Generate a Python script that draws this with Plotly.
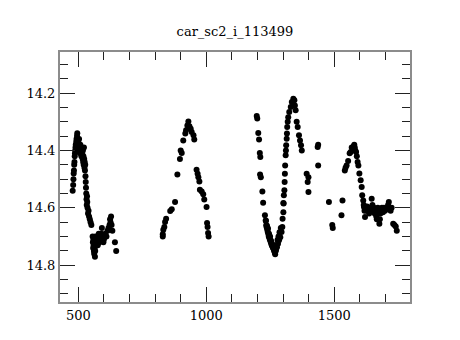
import plotly.graph_objects as go

title_text = "car_sc2_i_113499"

# Season 1
x1 = [478, 480, 481, 482, 483, 484, 485, 486, 487, 488, 489, 490, 491, 492, 493, 494, 495, 496, 497, 498,
      499, 500, 501, 502, 503, 505, 507, 508, 510, 512, 513, 515, 517, 518, 519, 520, 521, 522, 523, 524,
      525, 526, 527, 528, 529, 530, 531, 532, 533, 534, 535, 536, 538, 540, 542, 545, 548, 551,
      556, 557, 558, 559, 560, 561, 562, 563, 564, 565, 566, 567, 568, 570, 572, 574, 576, 578, 580, 582,
      585, 588, 590, 592, 595, 598, 600, 603, 606, 610, 614, 618, 622, 624, 626, 628, 630, 633, 643, 648]
y1 = [14.54, 14.52, 14.50, 14.48, 14.47, 14.45, 14.44, 14.42, 14.41, 14.40, 14.39, 14.38, 14.40, 14.37, 14.36, 14.38, 14.35, 14.34, 14.37, 14.36,
      14.39, 14.37, 14.40, 14.38, 14.36, 14.39, 14.41, 14.38, 14.40, 14.42, 14.39, 14.41, 14.43, 14.40, 14.44, 14.42, 14.45, 14.39, 14.43, 14.46,
      14.44, 14.47, 14.45, 14.49, 14.51, 14.53, 14.55, 14.57, 14.59, 14.56, 14.58, 14.60, 14.62, 14.61, 14.63, 14.64, 14.65, 14.66,
      14.70, 14.72, 14.74, 14.71, 14.73, 14.75, 14.76, 14.72, 14.74, 14.77, 14.75, 14.70, 14.73, 14.71, 14.72, 14.70, 14.73, 14.71, 14.69, 14.72,
      14.70, 14.71, 14.69, 14.67, 14.70, 14.72, 14.71, 14.70, 14.69, 14.70, 14.68, 14.67, 14.66, 14.64, 14.65, 14.63, 14.66, 14.68, 14.72, 14.75]

# Season 2
x2 = [830, 830, 832, 836, 839, 843, 859, 865, 878, 887, 897, 900, 904, 910, 918, 921, 926, 930, 934, 939,
      943, 950, 953, 962, 966, 969, 973, 975, 982, 988, 992, 1001, 1003, 1005, 1007, 1009]
y2 = [14.70, 14.692, 14.676, 14.667, 14.649, 14.638, 14.611, 14.605, 14.58, 14.484, 14.43, 14.40, 14.409, 14.365, 14.341, 14.33, 14.313, 14.299, 14.316, 14.324,
      14.336, 14.347, 14.362, 14.467, 14.481, 14.493, 14.508, 14.537, 14.543, 14.553, 14.571, 14.597, 14.653, 14.667, 14.688, 14.70]

# Season 3
x3 = [1197, 1199, 1203, 1206, 1209, 1211, 1210, 1213, 1219, 1222, 1229, 1232, 1234, 1236, 1238, 1240, 1242, 1244, 1246, 1248,
      1250, 1252, 1254, 1256, 1258, 1260, 1262, 1264, 1265, 1268, 1270, 1272, 1276, 1280, 1284, 1289, 1294, 1297, 1298, 1301,
      1302, 1303, 1305, 1306, 1307, 1308, 1310, 1311, 1312, 1314, 1315, 1316, 1318, 1320, 1324, 1330, 1334, 1340, 1344, 1346,
      1349, 1353, 1357, 1362, 1366, 1370, 1373, 1392, 1396, 1399, 1399, 1435, 1437, 1437,
      1233, 1237, 1241, 1245, 1249, 1253, 1257, 1261, 1266, 1269, 1271, 1274, 1278, 1282, 1286, 1291, 1301]
y3 = [14.28, 14.289, 14.339, 14.362, 14.409, 14.423, 14.484, 14.493, 14.543, 14.582, 14.626, 14.644, 14.661, 14.668, 14.675, 14.683, 14.69, 14.70, 14.702, 14.71,
      14.713, 14.72, 14.725, 14.73, 14.734, 14.738, 14.742, 14.745, 14.75, 14.756, 14.752, 14.748, 14.737, 14.725, 14.713, 14.702, 14.684, 14.667, 14.638, 14.615,
      14.585, 14.556, 14.539, 14.51, 14.481, 14.452, 14.417, 14.40, 14.382, 14.359, 14.341, 14.318, 14.30, 14.284, 14.266, 14.249, 14.231, 14.22, 14.225, 14.243,
      14.26, 14.30, 14.318, 14.347, 14.365, 14.382, 14.40, 14.481, 14.51, 14.493, 14.545, 14.388, 14.38, 14.452,
      14.645, 14.662, 14.672, 14.69, 14.70, 14.715, 14.725, 14.735, 14.745, 14.762, 14.74, 14.73, 14.712, 14.70, 14.685, 14.67, 14.583]

# Season 4
x4 = [1479, 1492, 1494, 1528, 1532, 1541, 1544, 1548, 1554, 1560, 1564, 1568, 1572, 1574, 1576, 1578, 1580, 1582, 1585, 1588,
      1591, 1594, 1598, 1603, 1607, 1609, 1613, 1615, 1616, 1618, 1620, 1622, 1625, 1628, 1632, 1636, 1640, 1643, 1646, 1649,
      1652, 1655, 1658, 1661, 1664, 1666, 1668, 1670, 1673, 1676, 1678, 1680, 1683, 1686, 1690, 1694, 1698, 1702, 1706, 1710,
      1713, 1716, 1720, 1724, 1730, 1735, 1740, 1744]
y4 = [14.58, 14.66, 14.67, 14.626, 14.574, 14.47, 14.46, 14.452, 14.437, 14.41, 14.405, 14.39, 14.39, 14.394, 14.385, 14.38, 14.39, 14.40, 14.405, 14.42,
      14.44, 14.452, 14.48, 14.504, 14.527, 14.556, 14.574, 14.59, 14.597, 14.61, 14.632, 14.60, 14.61, 14.595, 14.605, 14.62, 14.60, 14.61, 14.568, 14.59,
      14.61, 14.60, 14.62, 14.61, 14.63, 14.64, 14.615, 14.60, 14.62, 14.655, 14.64, 14.62, 14.61, 14.60, 14.615, 14.60, 14.61, 14.605, 14.60, 14.59,
      14.58, 14.60, 14.61, 14.60, 14.655, 14.66, 14.665, 14.68]

x_range = [428.5, 1795.7]
y_range = [14.928, 14.057]

xs = x1 + x2 + x3 + x4
ys = y1 + y2 + y3 + y4

font_family = "DejaVu Serif"

fig = go.Figure()
fig.add_trace(go.Scatter(
    x=xs, y=ys, mode="markers",
    marker=dict(color="black", size=6, line=dict(width=0)),
    showlegend=False, hoverinfo="skip",
))

axis_common = dict(
    showgrid=False, zeroline=False,
    showline=True, linecolor="#8c8c8c", linewidth=2,
    mirror="allticks", ticks="inside", ticklen=15, tickwidth=1, tickcolor="#222",
    tickfont=dict(family=font_family, size=13, color="black"),
)

fig.update_xaxes(range=x_range, dtick=500, tick0=0,
                 minor=dict(dtick=100, ticklen=8, ticks="inside", tickcolor="#222", tickwidth=1),
                 **axis_common)
fig.update_yaxes(range=y_range, dtick=0.2, tick0=0, tickformat=".1f",
                 minor=dict(dtick=0.05, ticklen=8, ticks="inside", tickcolor="#222", tickwidth=1),
                 **axis_common)

fig.update_layout(
    width=460, height=340,
    margin=dict(l=60, r=50, t=52, b=38),
    paper_bgcolor="white", plot_bgcolor="white",
    title=dict(text=title_text, x=0.5, xref="paper", xanchor="center",
               y=1 - 31 / 340, yanchor="middle",
               font=dict(family=font_family, size=13, color="black")),
    font=dict(family=font_family),
)

fig.write_html("out.html")
